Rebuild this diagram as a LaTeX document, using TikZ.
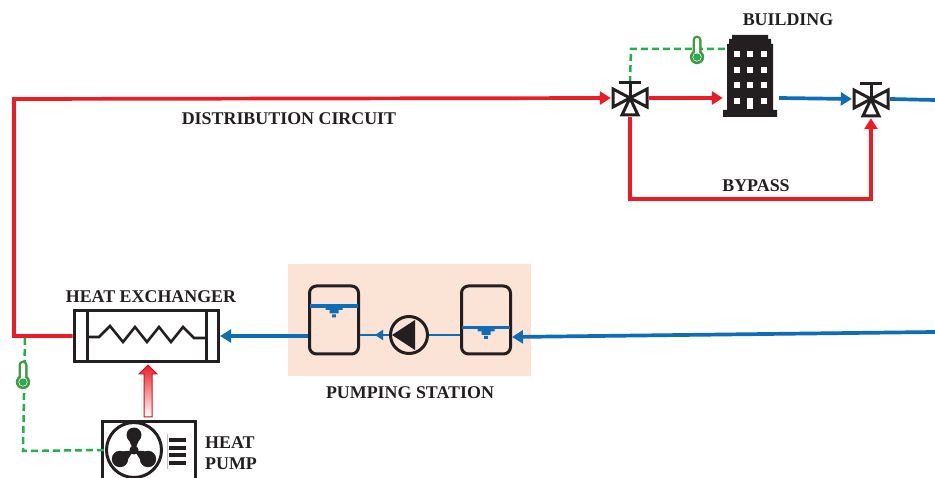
\documentclass[tikz,border=0pt]{standalone}
\usepackage{fontspec}
\setmainfont{Liberation Serif}
\usetikzlibrary{arrows.meta,positioning,calc}
\definecolor{PR}{HTML}{ED1C24}
\definecolor{PB}{HTML}{0F6DB7}
\definecolor{PK}{HTML}{231F20}
\definecolor{PG}{HTML}{22B24C}
\definecolor{PT}{HTML}{3F9C45}
\definecolor{PS}{HTML}{FBE3D6}
\tikzset{
  hot/.style={draw=PR,line width=3.7pt},
  cold/.style={draw=PB,line width=3.7pt},
  thincold/.style={draw=PB,line width=2.8pt},
  flowtip/.style={-{Triangle[length=11pt,width=13pt]}},
  smalltip/.style={-{Triangle[length=8pt,width=10pt]}},
  sense/.style={draw=PG,line width=2.5pt,dash pattern=on 7pt off 4pt},
  textlabel/.style={font=\bfseries\fontsize{17.9}{20}\selectfont,text=PK,inner sep=0pt},
  valvebox/.style={minimum width=38pt,minimum height=38pt,inner sep=0pt},
  tankbox/.style={draw=PK,line width=3pt,rounded corners=7pt,minimum width=49pt,minimum height=68pt,inner sep=0pt},
  valvesym/.pic={
    \draw[PK,line width=3pt,line join=miter,fill=white] (0,0) -- (-17,-9) -- (-17,9) -- cycle;
    \draw[PK,line width=3pt,line join=miter,fill=white] (0,0) -- (17,-9) -- (17,9) -- cycle;
    \draw[PK,line width=3pt,line join=miter,fill=white] (0,0) -- (-8,17) -- (8,17) -- cycle;
    \draw[PK,line width=3pt] (0,0) -- (0,-15) (-11,-15) -- (11,-15);
  },
  thermo/.pic={
    \fill[PT] (-4.5,0) -- (-4.5,-17) arc[start angle=180,end angle=360,radius=4.5] -- (4.5,0) -- cycle;
    \fill[PT] (0,0) circle[radius=7.2];
    \fill[white] (-2,0) -- (-2,-17) arc[start angle=180,end angle=360,radius=2] -- (2,0) -- cycle;
    \draw[white,line width=.7pt] (0,0) circle[radius=4.2];
    \fill[PG] (0,0) circle[radius=3.6];
  },
  levelsym/.pic={
    \fill[PB] (-24,-1.6) rectangle (24,1.6);
    \fill[PB] (-8.5,0) rectangle (8.5,3.8) (-4.5,0) rectangle (4.5,7.5) (-1.8,8.5) rectangle (1.8,11.5);
  },
}
\begin{document}
\begin{tikzpicture}[x=1pt,y=-1pt]
  \clip (0,0) rectangle (935,478);
  \fill[white] (0,0) rectangle (935,478);

  % pumping station
  \node[fill=PS,minimum width=243pt,minimum height=112pt,inner sep=0pt] (station) at (409.5,320) {};
  \node[tankbox] (tankL) at (334,320) {};
  \node[tankbox] (tankR) at (486,320) {};
  \node[draw=PK,circle,line width=3pt,minimum size=37pt,inner sep=0pt] (pump) at (409,335) {};
  \fill[PK] (392,335) -- (415,320) -- (415,350) -- cycle;
  \pic at (334,306) {levelsym};
  \pic at (486,327.5) {levelsym};

  % main parts
  \node[draw=PK,line width=3pt,minimum width=144.5pt,minimum height=51pt,inner sep=0pt] (hex) at (146.3,336) {};
  \draw[PK,line width=3pt] (87,310) -- (87,362) (206,310) -- (206,362);
  \draw[PK,line width=2.6pt] (87,337) -- (99,337) -- (110,326) -- (123,342) -- (135,327) -- (147,342) -- (159,327) -- (171,342) -- (183,327) -- (194,338) -- (206,338);
  \node[draw=PK,line width=3pt,minimum width=93.5pt,minimum height=80pt,inner sep=0pt] (heatpump) at (149,461.3) {};
  \node[draw=PK,circle,line width=3pt,minimum size=55pt,inner sep=0pt] (fan) at (134,450) {};
  \fill[PK] (134,450) circle[radius=4.5];
  \fill[PK] (134,435) circle[radius=7.5] (120,459) circle[radius=8.2] (148,459) circle[radius=8.2];
  \fill[PK] (127.5,437) -- (140.5,437) -- (135.5,448) -- (132.5,448) -- cycle;
  \fill[PK] (123.5,466) -- (116,452) -- (130.2,450.7) -- (131.8,453.3) -- cycle;
  \fill[PK] (144.5,466) -- (152,452) -- (137.8,450.7) -- (136.2,453.3) -- cycle;
  \draw[black!25,line width=.6pt] (167,434) -- (167,469);
  \foreach \y in {440,447.5,455,463}
    \fill[PK] (169,\y-2) rectangle (186,\y+2);

  % building
  \node[minimum width=54pt,minimum height=82pt,inner sep=0pt] (building) at (750,76) {};
  \fill[PK] (732,35) -- (768,35) -- (768,39) -- (771,39) -- (771,44) -- (773,44) -- (773,110) -- (777,110) -- (777,117) -- (723,117) -- (723,110) -- (727,110) -- (727,44) -- (729,44) -- (729,39) -- (732,39) -- cycle;
  \foreach \x in {737,750,764}
    \foreach \y in {54,70,85}
      \fill[white] (\x-3,\y-3) rectangle (\x+3,\y+3);
  \foreach \x in {737,764}
    \fill[white] (\x-3,98) rectangle (\x+3,104);
  \fill[white] (747,98) rectangle (753,109);

  % valves
  \node[valvebox] (valveA) at (630,98) {};
  \node[valvebox] (valveB) at (871,99) {};
  \coordinate (cornerT) at (14,99);
  \coordinate (cornerB) at (14,336);
  \coordinate (bypassA) at (630,199);
  \coordinate (bypassB) at (871,199);
  \coordinate (inEnd) at (935,332);
  \coordinate (outEnd) at (935,100);
  \coordinate (pumpmark) at (375,335);

  % hot circuit
  \draw[hot,flowtip] (hex.west) -- (cornerB) -- (cornerT) -- (valveA.west);
  \draw[hot,flowtip] (valveA.east) -- (building.west |- valveA);
  \draw[hot,flowtip] (valveA.south) -- (bypassA) -- (bypassB) -- (valveB.south);

  % cold circuit
  \draw[cold,flowtip] (inEnd) -- (tankR.east |- 0,337);
  \draw[cold,flowtip] (tankL.west |- hex) -- (hex.east);
  \draw[thincold] (pump.west) -- (tankL.east |- pump);
  \draw[thincold,smalltip] (pump.west) -- (pumpmark);
  \draw[thincold] (tankR.west |- pump) -- (pump.east);
  \draw[cold,flowtip] ($(building.east |- valveA)+(2,0)$) -- (valveB.west);
  \draw[cold] (valveB.east) -- (outEnd);

  % control lines
  \draw[sense] (valveA.center |- 0,83) -- (631,49) -- (727,49);
  \draw[sense] (25,338) -- (23,451) -- (fan.west);

  % heat arrow
  \shade[bottom color=white,top color=PR] (144,417) -- (144,374) -- (139,374) -- (148,365) -- (157,374) -- (152,374) -- (152,417) -- cycle;
  \draw[PR!85!black,line width=1pt] (144,417) -- (144,374) -- (139,374) -- (148,365) -- (157,374) -- (152,374) -- (152,417) -- cycle;

  \pic at (valveA) {valvesym};
  \pic at (valveB) {valvesym};
  \pic at (697,57) {thermo};
  \pic at (23,382) {thermo};

  % labels
  \node[textlabel] (buildingtext) at (788,19.7) {BUILDING};
  \node[textlabel] (circuittext) at (289,118.7) {DISTRIBUTION CIRCUIT};
  \node[textlabel] (bypasstext) at (756,185.7) {BYPASS};
  \node[textlabel] (hextext) at (151,296.7) {HEAT EXCHANGER};
  \node[textlabel] (stationtext) at (410,392.7) {PUMPING STATION};
  \node[textlabel,anchor=west] (heattext) at (205,442.7) {HEAT};
  \node[textlabel,anchor=west] (pumptext) at (205,463.7) {PUMP};
\end{tikzpicture}
\end{document}
